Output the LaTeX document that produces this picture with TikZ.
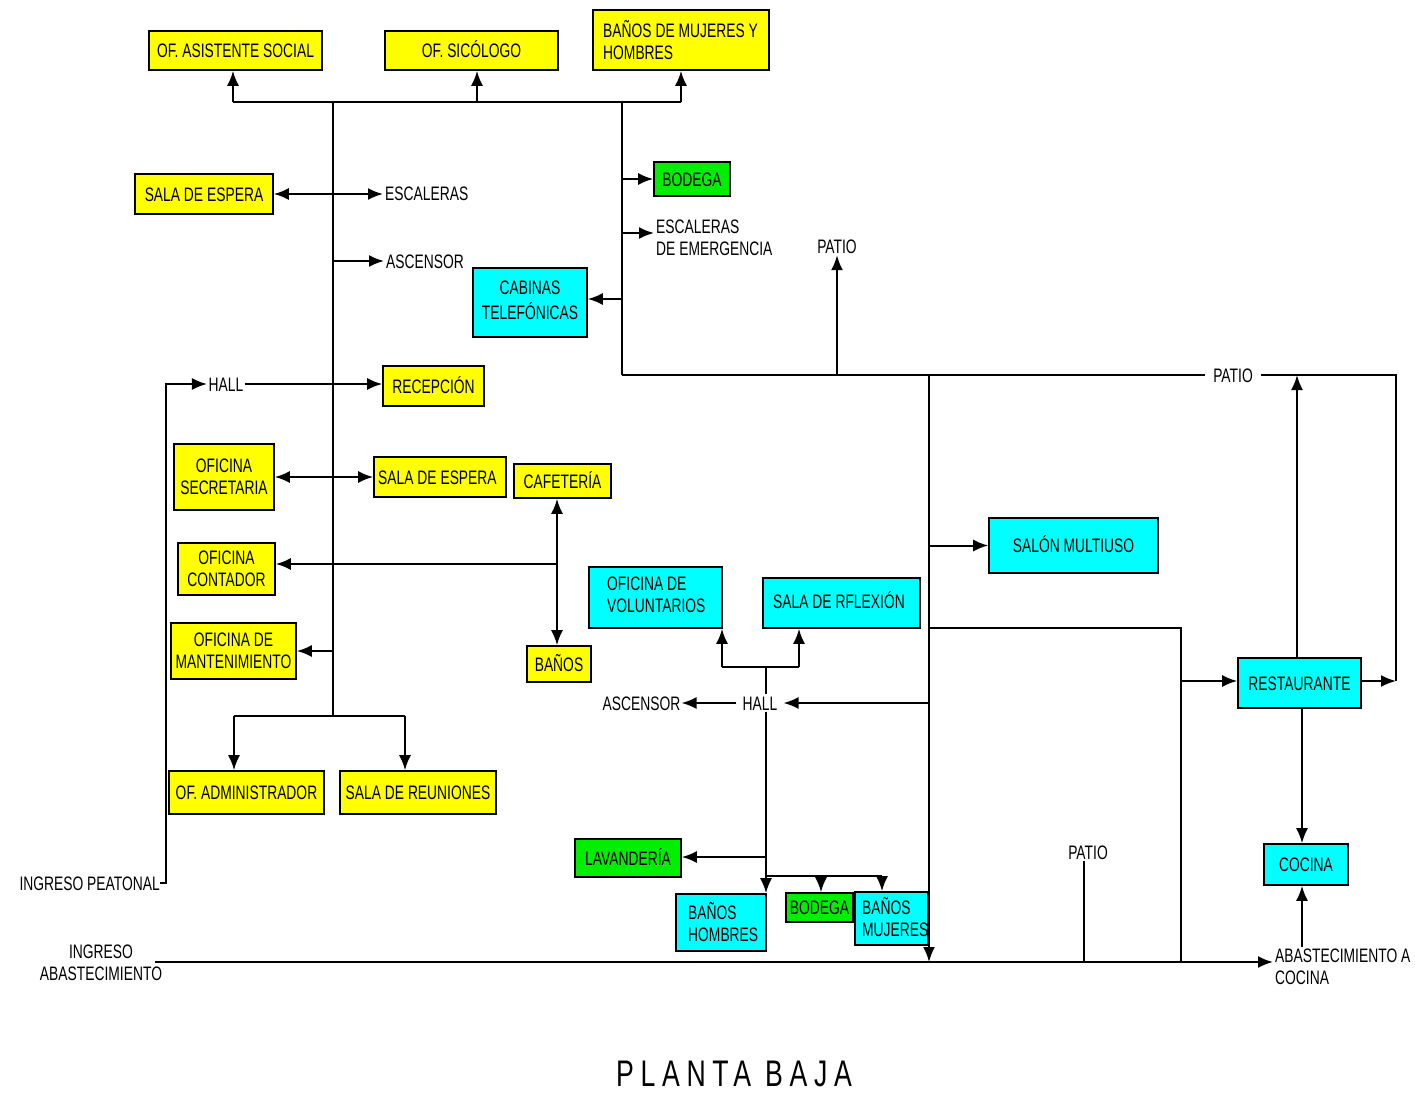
\documentclass[tikz,border=0pt]{standalone}
\usepackage{fontspec}
\setmainfont{Liberation Sans}[FakeStretch=0.71]
\newfontfamily\titlefont{Liberation Sans}[FakeStretch=0.72,LetterSpace=18]
\usetikzlibrary{arrows.meta}
\definecolor{cy}{RGB}{0,255,255}
\definecolor{ye}{RGB}{255,255,0}
\definecolor{gr}{RGB}{0,238,0}
\newcommand\labsize{\fontsize{19.5pt}{22pt}\selectfont}
\begin{document}
\begin{tikzpicture}[x=1pt,y=-1pt,
  box/.style={draw=black, line width=1.6pt, inner sep=0pt, font=\labsize, align=center},
  yb/.style={box, fill=ye},
  gb/.style={box, fill=gr},
  cb/.style={box, fill=cy},
  one/.style={text height=14pt, text depth=0pt},
  lab/.style={inner sep=2pt, font=\labsize},
  conn/.style={line width=2pt},
  arr/.style={conn, -{Latex[length=15pt,width=12pt]}},
  arrtwo/.style={conn, {Latex[length=15pt,width=12pt]}-{Latex[length=15pt,width=12pt]}}
]
\useasboundingbox (0,0) rectangle (1415,1095);

% ---- yellow boxes
\node[yb, one, minimum width=173pt, minimum height=39pt] (asis) at (235.5,50.5) {OF. ASISTENTE SOCIAL};
\node[yb, one, minimum width=173pt, minimum height=39pt] (sico) at (471.5,50.5) {OF. SIC\'OLOGO};
\node[yb, minimum width=176pt, minimum height=60pt] (banos) at (681,40) {};
\node[lab, anchor=west, align=left] (banost) at (601,40) {BAÑOS DE MUJERES Y\\HOMBRES};
\node[yb, one, minimum width=138pt, minimum height=40pt] (se1) at (204,194) {SALA DE ESPERA};
\node[yb, one, minimum width=101pt, minimum height=40pt] (rec) at (433.5,386) {RECEPCIÓN};
\node[yb, minimum width=100pt, minimum height=66pt] (ofsec) at (224,477) {OFICINA\\SECRETARIA};
\node[yb, minimum width=132pt, minimum height=40pt] (se2) at (440,477) {};
\node[lab, one, anchor=west] (se2t) at (376,477) {SALA DE ESPERA};
\node[yb, one, minimum width=97pt, minimum height=34pt] (caf) at (562.5,481) {CAFETERÍA};
\node[yb, minimum width=97pt, minimum height=52pt] (ofcon) at (226.5,569) {OFICINA\\CONTADOR};
\node[yb, minimum width=125pt, minimum height=56pt] (mant) at (233.5,651) {OFICINA DE\\MANTENIMIENTO};
\node[yb, one, minimum width=64pt, minimum height=36pt] (bs) at (559,664) {BAÑOS};
\node[yb, one, minimum width=155pt, minimum height=43pt] (adm) at (246.5,792.5) {OF. ADMINISTRADOR};
\node[yb, one, minimum width=156pt, minimum height=43pt] (reu) at (418,792.5) {SALA DE REUNIONES};

% ---- green boxes
\node[gb, one, minimum width=76pt, minimum height=34pt] (bod1) at (692,179) {BODEGA};
\node[gb, one, minimum width=106pt, minimum height=38pt] (lav) at (628,858) {LAVANDERÍA};
\node[gb, one, minimum width=67pt, minimum height=29pt] (bod2) at (819.5,907.5) {BODEGA};

% ---- cyan boxes
\node[cb, minimum width=114pt, minimum height=69pt] (cab) at (530,302.5) {};
\node[lab, align=center] (cabt) at (530,300) {CABINAS\\[3pt]TELEFÓNICAS};
\node[cb, minimum width=133pt, minimum height=61pt] (vol) at (655.5,597.5) {};
\node[lab, anchor=west, align=left] (volt) at (605,595) {OFICINA DE\\VOLUNTARIOS};
\node[cb, minimum width=157pt, minimum height=50pt] (refl) at (841.5,603) {};
\node[lab, one, anchor=west] (reflt) at (771,601) {SALA DE RFLEXIÓN};
\node[cb, one, minimum width=169pt, minimum height=55pt] (salon) at (1073.5,545.5) {SALÓN MULTIUSO};
\node[cb, one, minimum width=123pt, minimum height=50pt] (rest) at (1299.5,683) {RESTAURANTE};
\node[cb, one, minimum width=84pt, minimum height=41pt] (coc) at (1306,864.5) {COCINA};
\node[cb, minimum width=90pt, minimum height=57pt] (bh) at (721,922.5) {};
\node[lab, anchor=west, align=left] (bht) at (686,922) {BAÑOS\\HOMBRES};
\node[cb, minimum width=73pt, minimum height=53pt] (bm) at (891.5,918.5) {};
\node[lab, anchor=west, align=left] (bmt) at (860,917) {BAÑOS\\MUJERES};

% ---- text labels
\node[lab, one, anchor=west] (esc) at (383,193) {ESCALERAS};
\node[lab, one, anchor=west] (asc1) at (384,261) {ASCENSOR};
\node[lab, anchor=west, align=left] (escem) at (654,238) {ESCALERAS\\DE EMERGENCIA};
\node[lab, one] (patio1) at (837,246) {PATIO};
\node[lab, one, inner xsep=8pt] (patio2) at (1233,375) {PATIO};
\node[lab, one, inner xsep=1.5pt] (hall1) at (226,384) {HALL};
\node[lab, one, inner xsep=1pt] (asc2) at (641.5,703) {ASCENSOR};
\node[lab, one, inner xsep=6pt] (hall2) at (760,703) {HALL};
\node[lab, one] (patio3) at (1088,852) {PATIO};
\node[lab, one, anchor=east, inner xsep=0pt] (ingp) at (160,883) {INGRESO PEATONAL};
\node[lab, align=center] (ingab) at (101,963) {INGRESO\\ABASTECIMIENTO};
\node[lab, anchor=west, align=left] (abc) at (1273,967) {ABASTECIMIENTO A\\COCINA};
\node[inner sep=0pt] (title) at (734,1074) {\titlefont\fontsize{37pt}{40pt}\selectfont PLANTA BAJA};

% ---- coordinates
\coordinate (tb1) at (233,102);
\coordinate (tbS) at (477,102);
\coordinate (tb2) at (681,102);
\coordinate (tr0) at (333,102);
\coordinate (tr1) at (333,716);
\coordinate (v2a) at (622,102);
\coordinate (v2b) at (622,375);
\coordinate (e1) at (622,233);
\coordinate (c1) at (622,299);
\coordinate (p1) at (837,375);
\coordinate (pr) at (1396,375);
\coordinate (rr) at (1396,681);
\coordinate (g1) at (929,375);
\coordinate (g2) at (929,962);
\coordinate (h1) at (929,628);
\coordinate (h2) at (1181,628);
\coordinate (h3) at (1181,962);
\coordinate (r1) at (1297,375);
\coordinate (r2) at (1302,900);
\coordinate (k0) at (766,667);
\coordinate (kL) at (722,667);
\coordinate (kR) at (799,667);
\coordinate (k5) at (766,857);
\coordinate (k6) at (766,876);
\coordinate (k7) at (882,876);
\coordinate (k8) at (821,876);
\coordinate (L1) at (166,883);
\coordinate (L2) at (166,384);
\coordinate (m1) at (557,564);
\coordinate (b1) at (234,716);
\coordinate (b2) at (405,716);
\coordinate (q0) at (155,962);
\coordinate (q1) at (1084,962);

% ---- connectors: upper left block
\draw[conn] (tb1) -- (tb2);
\draw[arr] (tb1) -- (tb1 |- asis.south);
\draw[arr] (tbS) -- (tbS |- sico.south);
\draw[arr] (tb2) -- (tb2 |- banos.south);
\draw[conn] (tr0) -- (tr1);
\draw[arrtwo] (se1.east) -- (se1.east -| esc.west);
\draw[arr] (tr0 |- asc1.west) -- (asc1.west);
\draw[arr] (ingp.east) -- (L1) -- (L2) -- (L2 -| hall1.west);
\draw[arr] (hall1.east) -- (hall1.east -| rec.west);
\draw[arrtwo] (ofsec.east) -- (ofsec.east -| se2.west);
\draw[arrtwo] (m1 |- caf.south) -- (m1 |- bs.north);
\draw[arr] (m1) -- (m1 -| ofcon.east);
\draw[arr] (tr0 |- mant.east) -- (mant.east);
\draw[conn] (b1) -- (b2);
\draw[arr] (b1) -- (b1 |- adm.north);
\draw[arr] (b2) -- (b2 |- reu.north);

% ---- second vertical
\draw[conn] (v2a) -- (v2b);
\draw[arr] (v2a |- bod1.west) -- (bod1.west);
\draw[arr] (e1) -- (e1 -| escem.west);
\draw[arr] (c1) -- (c1 -| cab.east);
\draw[conn] (v2b) -- (patio2.west);
\draw[conn] (patio2.east) -- (pr) -- (rr);
\draw[arr] (p1) -- (p1 |- patio1.south);

% ---- right part
\draw[arr] (g1) -- (g2);
\draw[arr] (g1 |- salon.west) -- (salon.west);
\draw[conn] (h1) -- (h2) -- (h3);
\draw[arr] (h2 |- rr) -- (h2 |- rr -| rest.west);
\draw[arr] (rest.east |- rr) -- (rr);
\draw[arr] (r1 |- rest.north) -- (r1);
\draw[arr] (r2 |- rest.south) -- (r2 |- coc.north);
\draw[arr] (r2 |- abc.north) -- (r2 |- coc.south);

% ---- lower hall
\draw[arr] (g1 |- hall2.east) -- (hall2.east);
\draw[arr] (hall2.west) -- (asc2.east);
\draw[conn] (k0) -- (k0 |- hall2.north);
\draw[conn] (kL) -- (kR);
\draw[arr] (kL) -- (kL |- vol.south);
\draw[arr] (kR) -- (kR |- refl.south);
\draw[arr] (k0 |- hall2.south) -- (k0 |- bh.north);
\draw[arr] (k5) -- (k5 -| lav.east);
\draw[conn] (k6) -- (k7);
\draw[arr] (k8) -- (k8 |- bod2.north);
\draw[arr] (k7) -- (k7 |- bm.north);

% ---- bottom supply line
\draw[arr] (q0) -- (q0 -| abc.west);
\draw[conn] (q1) -- (q1 |- patio3.south);
\end{tikzpicture}
\end{document}
